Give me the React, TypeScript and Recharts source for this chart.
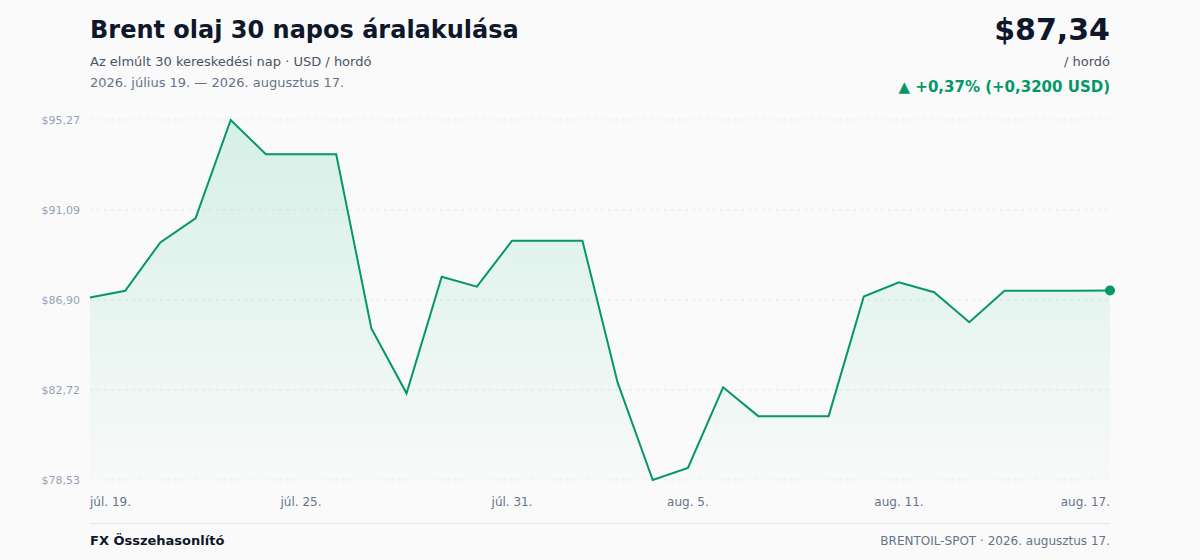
import React from 'react';
import { AreaChart, Area, XAxis, YAxis, CartesianGrid, ReferenceDot } from 'recharts';

const dates = [
  'júl. 19.', 'júl. 20.', 'júl. 21.', 'júl. 22.', 'júl. 23.', 'júl. 24.', 'júl. 25.', 'júl. 26.',
  'júl. 27.', 'júl. 28.', 'júl. 29.', 'júl. 30.', 'júl. 31.', 'aug. 1.', 'aug. 2.', 'aug. 3.',
  'aug. 4.', 'aug. 5.', 'aug. 6.', 'aug. 7.', 'aug. 8.', 'aug. 9.', 'aug. 10.', 'aug. 11.',
  'aug. 12.', 'aug. 13.', 'aug. 14.', 'aug. 15.', 'aug. 16.', 'aug. 17.',
];

const prices = [
  87.02, 87.33, 89.58, 90.7, 95.27, 93.68, 93.68, 93.68, 85.58, 82.56,
  87.98, 87.52, 89.66, 89.66, 89.66, 83.07, 78.53, 79.09, 82.84, 81.5,
  81.5, 81.5, 87.06, 87.72, 87.26, 85.87, 87.33, 87.33, 87.33, 87.34,
];

const xTicks = ['júl. 19.', 'júl. 25.', 'júl. 31.', 'aug. 5.', 'aug. 11.', 'aug. 17.'];
const yTicks = [78.53, 82.72, 86.9, 91.09, 95.27];

const GREEN = '#059669';
const FONT = '"DejaVu Sans", sans-serif';

const chartData = dates.map((d, i) => ({ date: d, price: prices[i] }));

const fmt = (v: number) => '$' + v.toFixed(2).replace('.', ',');

const XTick = (props: any) => {
  const { x, y, payload, index } = props;
  const anchor = index === 0 ? 'start' : index === xTicks.length - 1 ? 'end' : 'middle';
  return (
    <text x={x} y={y} dy={12} textAnchor={anchor} fontSize={12} fill="#64748b" fontFamily={FONT}>
      {payload.value}
    </text>
  );
};

export default function App() {
  const last = prices[prices.length - 1];
  return (
    <div style={{ position: 'absolute', top: 0, left: 0, width: 1200, height: 560, background: '#fafafa', fontFamily: FONT, overflow: 'hidden' }}>
      <div style={{ position: 'absolute', left: 90, top: 16, fontSize: 24, fontWeight: 700, color: '#0f172a' }}>
        Brent olaj 30 napos áralakulása
      </div>
      <div style={{ position: 'absolute', left: 90, top: 54, fontSize: 13, color: '#475569' }}>
        Az elmúlt 30 kereskedési nap · USD / hordó
      </div>
      <div style={{ position: 'absolute', left: 90, top: 75, fontSize: 13, color: '#64748b' }}>
        2026. július 19. — 2026. augusztus 17.
      </div>

      <div style={{ position: 'absolute', right: 90, top: 12, fontSize: 30, fontWeight: 700, color: '#0f172a', textAlign: 'right' }}>
        {fmt(last)}
      </div>
      <div style={{ position: 'absolute', right: 90, top: 54, fontSize: 13, color: '#475569', textAlign: 'right' }}>
        / hordó
      </div>
      <div style={{ position: 'absolute', right: 90, top: 78, fontSize: 15, fontWeight: 700, color: GREEN, textAlign: 'right' }}>
        ▲ +0,37% (+0,3200 USD)
      </div>

      <div style={{ position: 'absolute', left: 0, top: 0 }}>
        <AreaChart width={1200} height={560} data={chartData} margin={{ top: 120, right: 90, bottom: 50, left: 30 }}>
          <defs>
            <linearGradient id="brentFill" x1="0" y1="0" x2="0" y2="1">
              <stop offset="0%" stopColor="#10b981" stopOpacity={0.26} />
              <stop offset="100%" stopColor="#10b981" stopOpacity={0.02} />
            </linearGradient>
          </defs>
          <CartesianGrid vertical={false} stroke="#e5e7eb" strokeDasharray="3 4" />
          <XAxis
            dataKey="date"
            ticks={xTicks}
            interval={0}
            height={30}
            axisLine={false}
            tickLine={false}
            tick={<XTick />}
            tickMargin={8}
          />
          <YAxis
            width={60}
            domain={[78.53, 95.27]}
            ticks={yTicks}
            axisLine={false}
            tickLine={false}
            tickMargin={4}
            tickFormatter={fmt}
            tick={{ fontSize: 11, fill: '#94a3b8', fontFamily: FONT }}
          />
          <Area
            type="linear"
            dataKey="price"
            stroke={GREEN}
            strokeWidth={2}
            fill="url(#brentFill)"
            dot={false}
            activeDot={false}
            isAnimationActive={false}
          />
          <ReferenceDot x={dates[dates.length - 1]} y={last} r={5} fill={GREEN} stroke="none" />
        </AreaChart>
      </div>

      <div style={{ position: 'absolute', left: 90, top: 523, width: 1020, height: 1, background: '#e5e7eb' }} />
      <div style={{ position: 'absolute', left: 90, top: 533, fontSize: 13, fontWeight: 700, color: '#0f172a' }}>
        FX Összehasonlító
      </div>
      <div style={{ position: 'absolute', right: 90, top: 534, fontSize: 12, color: '#64748b', textAlign: 'right' }}>
        BRENTOIL-SPOT · 2026. augusztus 17.
      </div>
    </div>
  );
}
